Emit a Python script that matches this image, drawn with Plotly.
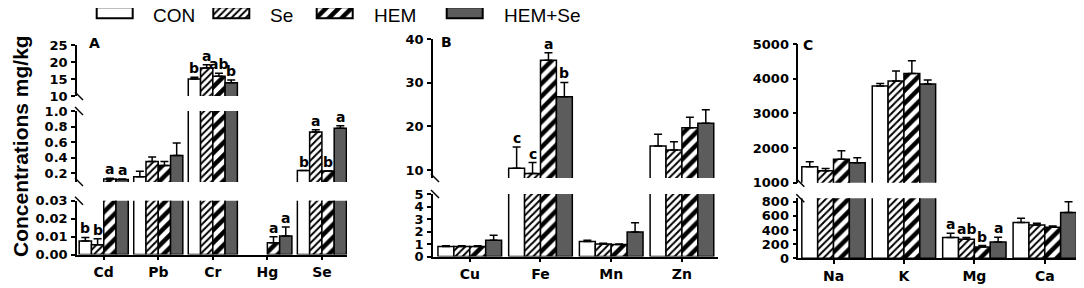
import plotly.graph_objects as go

W, H = 1084, 288
OX, OY = 8, 8  # page body margin of the html page
FONT = "Liberation Sans, Arial, sans-serif"
TFONT = "DejaVu Sans, Liberation Sans, sans-serif"

series = ["CON", "Se", "HEM", "HEM+Se"]

# ---------------- Panel A ----------------
cats_a = ["Cd", "Pb", "Cr", "Hg", "Se"]
a_con = [0.0075, 0.155, 15.0, None, 0.235]
a_con_err = [0.002, 0.07, 0.5, 0, 0]
a_se = [0.0055, 0.35, 18.2, None, 0.73]
a_se_err = [0.0033, 0.06, 1.0, 0, 0.03]
a_hem = [0.125, 0.30, 15.8, 0.0066, 0.23]
a_hem_err = [0.01, 0.05, 0.9, 0.0033, 0]
a_hs = [0.12, 0.43, 13.9, 0.0103, 0.78]
a_hs_err = [0.008, 0.16, 0.8, 0.005, 0.03]
a_let_con = ["b", "", "b", "", "b"]
a_let_se = ["b", "", "a", "", "a"]
a_let_hem = ["a", "", "ab", "a", "b"]
a_let_hs = ["a", "", "b", "a", "a"]

# ---------------- Panel B ----------------
cats_b = ["Cu", "Fe", "Mn", "Zn"]
b_con = [0.8, 10.4, 1.2, 15.5]
b_con_err = [0.05, 4.9, 0.1, 2.7]
b_se = [0.8, 9.2, 1.0, 14.6]
b_se_err = [0.05, 2.5, 0.05, 1.9]
b_hem = [0.8, 35.2, 0.95, 19.7]
b_hem_err = [0.05, 1.7, 0.05, 2.4]
b_hs = [1.3, 26.8, 1.95, 20.7]
b_hs_err = [0.4, 3.3, 0.75, 3.1]
b_let_con = ["", "c", "", ""]
b_let_se = ["", "c", "", ""]
b_let_hem = ["", "a", "", ""]
b_let_hs = ["", "b", "", ""]

# ---------------- Panel C ----------------
cats_c = ["Na", "K", "Mg", "Ca"]
c_con = [1460, 3790, 292, 504]
c_con_err = [145, 70, 61, 61]
c_se = [1346, 3930, 268, 471]
c_se_err = [67, 290, 24, 23]
c_hem = [1673, 4150, 160, 438]
c_hem_err = [250, 365, 19, 18]
c_hs = [1577, 3850, 231, 645]
c_hs_err = [144, 110, 65, 155]
c_let_con = ["", "", "a", ""]
c_let_se = ["", "", "ab", ""]
c_let_hem = ["", "", "b", ""]
c_let_hs = ["", "", "a", ""]

# tick labels of the broken y axes (bottom segment first)
a_ticks = [([0, 0.01, 0.02, 0.03], ["0.00", "0.01", "0.02", "0.03"]),
           ([0.2, 0.4, 0.6, 0.8, 1.0], ["0.2", "0.4", "0.6", "0.8", "1.0"]),
           ([10, 15, 20, 25], ["10", "15", "20", "25"])]
b_ticks = [([0, 1, 2, 3, 4, 5], ["0", "1", "2", "3", "4", "5"]),
           ([10, 20, 30, 40], ["10", "20", "30", "40"])]
c_ticks = [([0, 200, 400, 600, 800], ["0", "200", "400", "600", "800"]),
           ([1000, 2000, 3000, 4000, 5000], ["1000", "2000", "3000", "4000", "5000"])]

# ---------------- layout geometry (pixels in the screenshot) ----------------
panels = [
    dict(cats=cats_a,
         data=[(a_con, a_con_err), (a_se, a_se_err), (a_hem, a_hem_err), (a_hs, a_hs_err)],
         letters=[a_let_con, a_let_se, a_let_hem, a_let_hs],
         xdom=(77, 347), xrange=[-0.49, 4.46], label="A", label_pos=(94, 43),
         segs=[dict(range=[0, 0.03], px=(200.7, 254.5)),
               dict(range=[0.088, 1.0], px=(111, 182)),
               dict(range=[10, 25], px=(45, 96))],
         ticks=a_ticks),
    dict(cats=cats_b,
         data=[(b_con, b_con_err), (b_se, b_se_err), (b_hem, b_hem_err), (b_hs, b_hs_err)],
         letters=[b_let_con, b_let_se, b_let_hem, b_let_hs],
         xdom=(433, 718), xrange=[-0.52, 3.51], label="B", label_pos=(446, 42),
         segs=[dict(range=[0, 5], px=(194, 256.5)),
               dict(range=[8.16, 40], px=(39.3, 178))],
         ticks=b_ticks),
    dict(cats=cats_c,
         data=[(c_con, c_con_err), (c_se, c_se_err), (c_hem, c_hem_err), (c_hs, c_hs_err)],
         letters=[c_let_con, c_let_se, c_let_hem, c_let_hs],
         xdom=(798.3, 1080), xrange=[-0.5, 3.5], label="C", label_pos=(808, 45),
         segs=[dict(range=[0, 847], px=(198.3, 258.3)),
               dict(range=[1000, 5000], px=(44, 182.7))],
         ticks=c_ticks),
]


def xp(p):
    return (p - OX) / W


def yp(p):
    return 1 - (p - OY) / H


GRAY = "#5c5c5c"
styles = [
    dict(color="white"),
    dict(color="white", pattern=dict(shape="/", fgcolor="black", bgcolor="white", size=5, solidity=0.4)),
    dict(color="white", pattern=dict(shape="/", fgcolor="black", bgcolor="white", size=9, solidity=0.5)),
    dict(color=GRAY),
]

BARGAP = 0.1
bw = (1 - BARGAP) / 4
offsets = [(-1.5 + k) * bw for k in range(4)]

fig = go.Figure()
layout = {}
annotations = []
shapes = []

tick_font = dict(family=TFONT, size=13, color="black", weight="bold")

yi = 0
for pi, P in enumerate(panels):
    xname = "x" if pi == 0 else f"x{pi + 1}"
    xkey = "xaxis" if pi == 0 else f"xaxis{pi + 1}"
    n = len(P["cats"])
    seg_names = []
    for si, S in enumerate(P["segs"]):
        yi += 1
        yname = "y" if yi == 1 else f"y{yi}"
        ykey = "yaxis" if yi == 1 else f"yaxis{yi}"
        seg_names.append(yname)
        tv, tt = P["ticks"][si]
        layout[ykey] = dict(
            domain=[yp(S["px"][1]), yp(S["px"][0])], range=S["range"], anchor=xname,
            showline=True, linecolor="black", linewidth=1.5, ticks="outside",
            ticklen=4, tickwidth=1.5, tickcolor="black", showgrid=False, zeroline=False,
            tickvals=tv, ticktext=tt, tickfont=tick_font, ticklabelstandoff=1,
            automargin=False,
        )
        for k in range(4):
            vals, errs = P["data"][k]
            fig.add_trace(go.Bar(
                x=list(range(n)), y=vals, xaxis=xname, yaxis=yname,
                name=series[k], showlegend=False,
                marker=dict(**styles[k], line=dict(color="black", width=1.5)),
                error_y=dict(type="data", symmetric=False, array=errs,
                             arrayminus=[0] * n, color="black", thickness=1.5, width=4),
            ))
    layout[xkey] = dict(
        domain=[xp(P["xdom"][0]), xp(P["xdom"][1])], range=P["xrange"],
        anchor=seg_names[0], showline=True, linecolor="black", linewidth=1.5,
        ticks="outside", ticklen=4, tickwidth=1.5, tickcolor="black",
        tickvals=list(range(n)), ticktext=P["cats"], showgrid=False, zeroline=False,
        tickfont=dict(family=TFONT, size=14, color="black", weight="bold"),
        automargin=False,
    )
    # significance letters
    for k in range(4):
        vals, errs = P["data"][k]
        for i in range(n):
            lt = P["letters"][k][i]
            if not lt or vals[i] is None:
                continue
            top = vals[i] + (errs[i] or 0)
            for si, S in enumerate(P["segs"]):
                if S["range"][0] <= top <= S["range"][1] * 1.05:
                    annotations.append(dict(
                        x=i + offsets[k], y=top, xref=xname, yref=seg_names[si],
                        text=lt, showarrow=False, xanchor="center", yanchor="bottom",
                        yshift=-1,
                        font=dict(family=TFONT, size=14, color="black", weight="bold")))
                    break
    # panel label
    annotations.append(dict(x=xp(P["label_pos"][0]), y=yp(P["label_pos"][1]),
                            xref="paper", yref="paper", text=P["label"], showarrow=False,
                            xanchor="center", yanchor="middle",
                            font=dict(family=TFONT, size=14, color="black", weight="bold")))
    # axis break marks
    ax = P["xdom"][0]
    for si in range(len(P["segs"]) - 1):
        for yy in (P["segs"][si]["px"][0], P["segs"][si + 1]["px"][1]):
            shapes.append(dict(type="line", xref="paper", yref="paper",
                               x0=xp(ax - 2), y0=yp(yy - 4), x1=xp(ax + 6), y1=yp(yy + 4),
                               line=dict(color="black", width=1.5)))

# ---------------- legend (drawn on its own hidden axis) ----------------
leg_x = [96.7, 213.3, 316.7, 446.7]
leg_text_x = [150.7, 268, 371.7, 501.7]
ly = f"y{yi + 1}"
for k in range(4):
    fig.add_trace(go.Bar(
        y=[12.8], x=[36], base=[leg_x[k] - OX], orientation="h", width=11, offset=-5.5,
        xaxis="x4", yaxis=ly, showlegend=False, hoverinfo="skip",
        marker=dict(**styles[k], line=dict(color="black", width=2)),
    ))
    annotations.append(dict(x=xp(leg_text_x[k]), y=yp(15), xref="paper", yref="paper",
                            xanchor="left", yanchor="middle", text=series[k], showarrow=False,
                            font=dict(family=FONT, size=19, color="black")))
layout["xaxis4"] = dict(domain=[0, 1], range=[0, W], visible=False, anchor=ly, automargin=False)
layout[f"yaxis{yi + 1}"] = dict(domain=[yp(28), yp(OY)], range=[28, OY], visible=False,
                               anchor="x4", automargin=False)

# y title
annotations.append(dict(x=xp(20), y=yp(146), xref="paper", yref="paper",
                        xanchor="center", yanchor="middle",
                        text="Concentrations mg/kg", textangle=-90, showarrow=False,
                        font=dict(family=FONT, size=21, color="black", weight="bold")))

fig.update_layout(
    template="none",
    width=W, height=H, autosize=False,
    margin=dict(l=0, r=0, t=0, b=0, pad=0),
    paper_bgcolor="white", plot_bgcolor="white",
    barmode="group", bargap=BARGAP, bargroupgap=0,
    showlegend=False, annotations=annotations, shapes=shapes,
    **layout,
)

fig.write_html("out.html")
